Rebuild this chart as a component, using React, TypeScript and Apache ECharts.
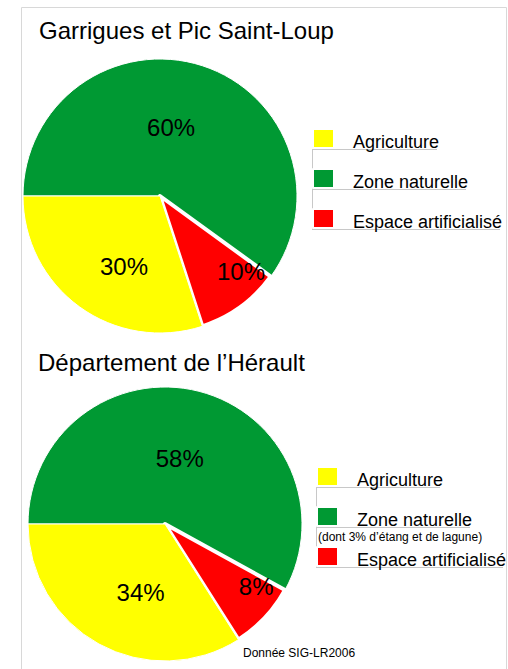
import React, { useEffect, useRef } from "react";
import * as echarts from "echarts";

const categories = ["Zone naturelle", "Espace artificialisé", "Agriculture"];
const legendOrder = ["Agriculture", "Zone naturelle", "Espace artificialisé"];
const colors = ["#009933", "#ff0000", "#ffff00"];
const valuesGarrigues = [60, 10, 30];
const valuesHerault = [58, 8, 34];
const titles = ["Garrigues et Pic Saint-Loup", "Département de l’Hérault"];
const noteText = "(dont 3% d’étang et de lagune)";
const sourceText = "Donnée SIG-LR2006";

const FONT = "'Liberation Sans', Arial, Helvetica, sans-serif";

function buildData(values: number[]) {
  return categories.map((name, i) => ({
    name,
    value: values[i],
    itemStyle: {
      color: colors[i],
      borderColor: "#ffffff",
      borderWidth: name === "Espace artificialisé" ? 4 : 1,
    },
  }));
}

const nudges1 = [
  [-11, 0],
  [39, 18],
  [6, 13],
];
const nudges2 = [
  [-3, 4],
  [39, 14],
  [10, 6],
];

export default function App() {
  const ref = useRef<HTMLDivElement>(null);
  useEffect(() => {
    if (!ref.current) return;
    const chart = echarts.init(ref.current, undefined, { renderer: "svg" });
    const grey = "#c8c8c8";
    const lineStyle = { stroke: grey, lineWidth: 1 };
    const pieBase = {
      type: "pie" as const,
      radius: 137,
      startAngle: 180,
      clockwise: true,
      silent: true,
      label: {
        show: true,
        position: "inside" as const,
        formatter: "{c}%",
        fontSize: 24,
        color: "#000",
        fontFamily: FONT,
      },
      labelLine: { show: false },
    };
    const legendBase = {
      orient: "vertical" as const,
      data: legendOrder,
      icon: "rect",
      itemWidth: 21,
      itemHeight: 19,
      itemGap: 17,
      selectedMode: false,
      formatter: "{t|{name}}",
      textStyle: {
        fontSize: 18,
        color: "#000",
        fontFamily: FONT,
        rich: {
          t: {
            fontSize: 18,
            color: "#000",
            fontFamily: FONT,
            padding: [7, 0, 0, 14],
          },
        },
      },
    };
    chart.setOption({
      animation: false,
      backgroundColor: "#ffffff",
      title: [
        {
          text: titles[0],
          left: 39,
          top: 18,
          padding: 0,
          textStyle: { fontSize: 24, fontWeight: "normal", color: "#000", fontFamily: FONT },
        },
        {
          text: titles[1],
          left: 38,
          top: 350,
          padding: 0,
          textStyle: { fontSize: 24, fontWeight: "normal", color: "#000", fontFamily: FONT },
        },
      ],
      legend: [
        { ...legendBase, left: 312, top: 128, padding: 0 },
        { ...legendBase, left: 316, top: 466, padding: 0 },
      ],
      graphic: [
        {
          type: "rect",
          shape: { x: 21.5, y: 7.5, width: 485, height: 700 },
          style: { fill: "none", stroke: "#d8d8d8", lineWidth: 1 },
          silent: true,
        },
        { type: "line", shape: { x1: 312.5, y1: 149.5, x2: 312.5, y2: 229.5 }, style: lineStyle },
        { type: "line", shape: { x1: 312, y1: 149.5, x2: 437, y2: 149.5 }, style: lineStyle },
        { type: "line", shape: { x1: 312, y1: 189.5, x2: 466, y2: 189.5 }, style: lineStyle },
        { type: "line", shape: { x1: 312, y1: 229.5, x2: 500, y2: 229.5 }, style: lineStyle },
        { type: "line", shape: { x1: 316.5, y1: 487.5, x2: 316.5, y2: 567.5 }, style: lineStyle },
        { type: "line", shape: { x1: 316, y1: 487.5, x2: 440, y2: 487.5 }, style: lineStyle },
        { type: "line", shape: { x1: 316, y1: 527.5, x2: 470, y2: 527.5 }, style: lineStyle },
        { type: "line", shape: { x1: 316, y1: 567.5, x2: 503, y2: 567.5 }, style: lineStyle },
        {
          type: "text",
          x: 318,
          y: 537,
          style: {
            text: noteText,
            fontSize: 12,
            fill: "#000",
            fontFamily: FONT,
            verticalAlign: "middle",
          },
        },
        {
          type: "text",
          x: 243,
          y: 653,
          style: {
            text: sourceText,
            fontSize: 12,
            fill: "#000",
            fontFamily: FONT,
            verticalAlign: "middle",
          },
        },
      ],
      series: [
        {
          ...pieBase,
          name: titles[0],
          center: [160, 196],
          data: buildData(valuesGarrigues),
          labelLayout: (p: any) => ({ dx: nudges1[p.dataIndex][0], dy: nudges1[p.dataIndex][1] }),
        },
        {
          ...pieBase,
          name: titles[1],
          center: [165, 524],
          data: buildData(valuesHerault),
          labelLayout: (p: any) => ({ dx: nudges2[p.dataIndex][0], dy: nudges2[p.dataIndex][1] }),
        },
      ],
    });
    return () => chart.dispose();
  }, []);
  return (
    <div
      ref={ref}
      style={{ position: "fixed", left: 0, top: 0, width: 508, height: 669 }}
    />
  );
}
